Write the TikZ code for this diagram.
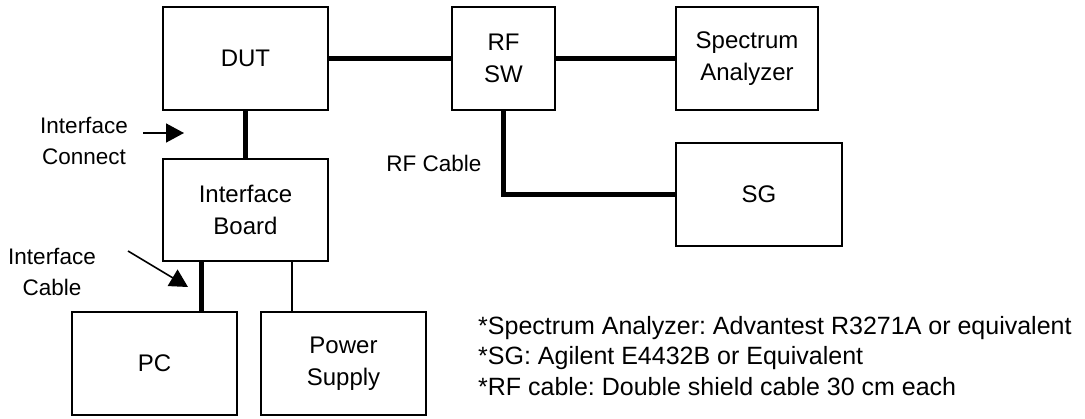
\documentclass[tikz,border=0pt]{standalone}
\usepackage{fontspec}
\setmainfont{Liberation Sans}
\usetikzlibrary{arrows.meta,calc}
\frenchspacing
\begin{document}
\begin{tikzpicture}[x=1pt,y=-1pt,
  box/.style={draw,line width=1.8pt,rectangle,inner sep=0pt,align=center,
    font=\fontsize{24}{32}\selectfont},
  lbl/.style={inner sep=0pt,align=center,font=\fontsize{22.5}{31}\selectfont},
  thickcable/.style={line width=5pt},
  thincable/.style={line width=1.8pt},
  pointer/.style={line width=1.6pt,-{Triangle[length=18pt,width=19pt]}}]
\useasboundingbox (0,0) rectangle (1085,418);
% boxes
\node[box,minimum width=165pt,minimum height=103pt] (DUT) at (245.5,58.5) {DUT};
\node[box,minimum width=103pt,minimum height=103pt] (SW) at (503.5,58.5) {RF\\SW};
\node[box,minimum width=142pt,minimum height=103pt] (SA) at (747,58.5) {Spectrum\\Analyzer};
\node[box,minimum width=166pt,minimum height=103pt] (SG) at (759,194.5) {SG};
\node[box,minimum width=165pt,minimum height=102pt] (IB) at (245.5,210) {Interface\\Board};
\node[box,minimum width=165pt,minimum height=103pt] (PC) at (154.5,363.5) {PC};
\node[box,minimum width=165pt,minimum height=103pt] (PS) at (343.5,363.5) {Power\\Supply};
% connectors
\draw[thickcable] (DUT.east) -- (SW.west);
\draw[thickcable] (SW.east) -- (SA.west);
\draw[thickcable] (SW.south) |- (SG.west);
\draw[thickcable] (DUT.south) -- (IB.north);
\coordinate (pcTop) at ($(IB.south west)+(39,0)$);
\draw[thickcable] (pcTop) -- (pcTop |- PC.north);
\coordinate (psTop) at ($(IB.south west)+(130,0)$);
\draw[thincable] (psTop) -- (psTop |- PS.north);
% labels
\node[lbl] (IC) at (84,140.5) {Interface\\Connect};
\node[lbl] (ICab) at (52,271.5) {Interface\\Cable};
\node[lbl] (RFC) at (434,163) {RF Cable};
\coordinate (icA) at (143,133);
\coordinate (icB) at (184,133);
\draw[pointer] (icA) -- (icB);
\coordinate (cbA) at (128,251);
\coordinate (cbB) at (188,287);
\draw[pointer] (cbA) -- (cbB);
\node[inner sep=0pt,anchor=west,align=left,font=\fontsize{25}{30.8}\selectfont] (notes) at (478,356)
  {*Spectrum Analyzer: Advantest R3271A or equivalent\\
   *SG: Agilent E4432B or Equivalent\\
   *RF cable: Double shield cable 30 cm each};
\end{tikzpicture}
\end{document}
